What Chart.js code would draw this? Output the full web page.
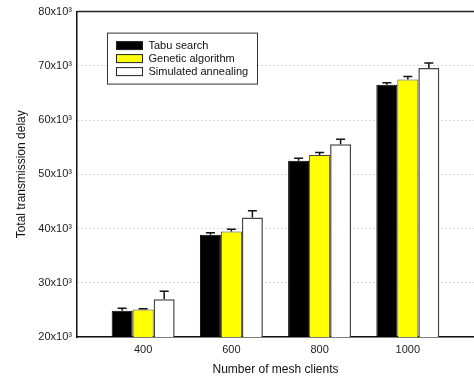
<!DOCTYPE html>
<html>
<head>
<meta charset="utf-8">
<script src="https://cdn.jsdelivr.net/npm/chart.js@4/dist/chart.umd.min.js"></script>
<style>
  html, body { margin: 0; padding: 0; background: #fff; }
  #wrap { width: 474px; height: 383px; }
</style>
</head>
<body>
<div id="wrap"><canvas id="c" width="474" height="383"></canvas></div>
<script>
// Number of mesh clients
const clients = [400, 600, 800, 1000];

// Total transmission delay per algorithm, with upper error
const tabuSearch = [24830, 38840, 52480, 66500];
const tabuErr = [450, 370, 480, 400];
const geneticAlgorithm = [25080, 39450, 53580, 67470];
const geneticErr = [120, 420, 420, 550];
const simulatedAnnealing = [26970, 42020, 55540, 69600];
const annealingErr = [1450, 1280, 900, 900];

const yTicks = [20000, 30000, 40000, 50000, 60000, 70000, 80000];

const FONT = "'Liberation Sans', Arial, sans-serif";

function points(values) {
  return clients.map((c, i) => ({ x: c, y: values[i] }));
}

// Upper error whiskers with a short cap
const errorBars = {
  id: 'errorBars',
  afterDatasetsDraw(chart) {
    const ctx = chart.ctx;
    const y = chart.scales.y;
    ctx.save();
    ctx.strokeStyle = '#111';
    ctx.lineWidth = 1.5;
    chart.data.datasets.forEach((ds, di) => {
      const meta = chart.getDatasetMeta(di);
      meta.data.forEach((bar, i) => {
        const v = ds.data[i].y;
        const top = y.getPixelForValue(v + ds.errors[i]);
        const base = y.getPixelForValue(v);
        ctx.beginPath();
        ctx.moveTo(bar.x, base);
        ctx.lineTo(bar.x, top);
        ctx.moveTo(bar.x - 4.5, top);
        ctx.lineTo(bar.x + 4.5, top);
        ctx.stroke();
      });
    });
    ctx.restore();
  }
};

// Top frame line and boxed legend inside the plot
const frameAndLegend = {
  id: 'frameAndLegend',
  afterDraw(chart) {
    const ctx = chart.ctx;
    const a = chart.chartArea;
    ctx.save();
    ctx.strokeStyle = '#222';
    ctx.lineWidth = 1.5;
    ctx.beginPath();
    ctx.moveTo(a.left, a.top);
    ctx.lineTo(a.right, a.top);
    ctx.stroke();

    const bx = a.left + 30.5, by = a.top + 21.5, bw = 150, bh = 51;
    ctx.fillStyle = '#fff';
    ctx.fillRect(bx, by, bw, bh);
    ctx.lineWidth = 1;
    ctx.strokeStyle = '#333';
    ctx.strokeRect(bx, by, bw, bh);

    ctx.font = '11px ' + FONT;
    ctx.textBaseline = 'middle';
    chart.data.datasets.forEach((ds, i) => {
      const cy = by + 12.5 + i * 13;
      ctx.fillStyle = ds.backgroundColor;
      ctx.fillRect(bx + 9, cy - 4, 26, 8);
      ctx.strokeStyle = '#222';
      ctx.strokeRect(bx + 9, cy - 4, 26, 8);
      ctx.fillStyle = '#111';
      ctx.fillText(ds.label, bx + 41, cy);
    });
    ctx.restore();
  }
};

new Chart(document.getElementById('c'), {
  type: 'bar',
  data: {
    datasets: [
      { label: 'Tabu search', data: points(tabuSearch), errors: tabuErr,
        backgroundColor: '#000000', borderColor: '#000000', borderWidth: 1 },
      { label: 'Genetic algorithm', data: points(geneticAlgorithm), errors: geneticErr,
        backgroundColor: '#ffff00', borderColor: '#444444', borderWidth: 1 },
      { label: 'Simulated annealing', data: points(simulatedAnnealing), errors: annealingErr,
        backgroundColor: '#ffffff', borderColor: '#444444', borderWidth: 1.5 }
    ]
  },
  options: {
    responsive: false,
    animation: false,
    layout: { padding: { top: 10, right: 0, left: 0, bottom: 0 } },
    categoryPercentage: 0.714,
    barPercentage: 1.0,
    plugins: {
      legend: { display: false },
      tooltip: { enabled: false }
    },
    scales: {
      x: {
        type: 'linear',
        min: 250,
        max: 1150,
        offset: false,
        afterBuildTicks(scale) { scale.ticks = clients.map(v => ({ value: v })); },
        afterFit(scale) { scale.height = 46; },
        grid: { display: false, drawTicks: false },
        border: { color: '#111', width: 1.5 },
        ticks: {
          color: '#222', font: { family: FONT, size: 11 }, padding: 6,
          callback: v => String(v)
        },
        title: {
          display: true, text: 'Number of mesh clients', color: '#111',
          font: { family: FONT, size: 12 }, padding: { top: 8, bottom: 6 }
        }
      },
      y: {
        min: 20000,
        max: 80000,
        afterBuildTicks(scale) { scale.ticks = yTicks.map(v => ({ value: v })); },
        afterFit(scale) { scale.width = 77; },
        grid: {
          color: '#b0b0b0', lineWidth: 1, drawTicks: false
        },
        border: { color: '#111', width: 1.5, dash: [1, 3], dashOffset: 0 },
        ticks: {
          color: '#222', font: { family: FONT, size: 11 }, padding: 5,
          callback: v => (v / 1000) + 'x10\u00B3'
        },
        title: {
          display: true, text: 'Total transmission delay', color: '#111',
          font: { family: FONT, size: 12 }, padding: { top: 14, bottom: 8 }
        }
      }
    }
  },
  plugins: [errorBars, frameAndLegend]
});
</script>
</body>
</html>
